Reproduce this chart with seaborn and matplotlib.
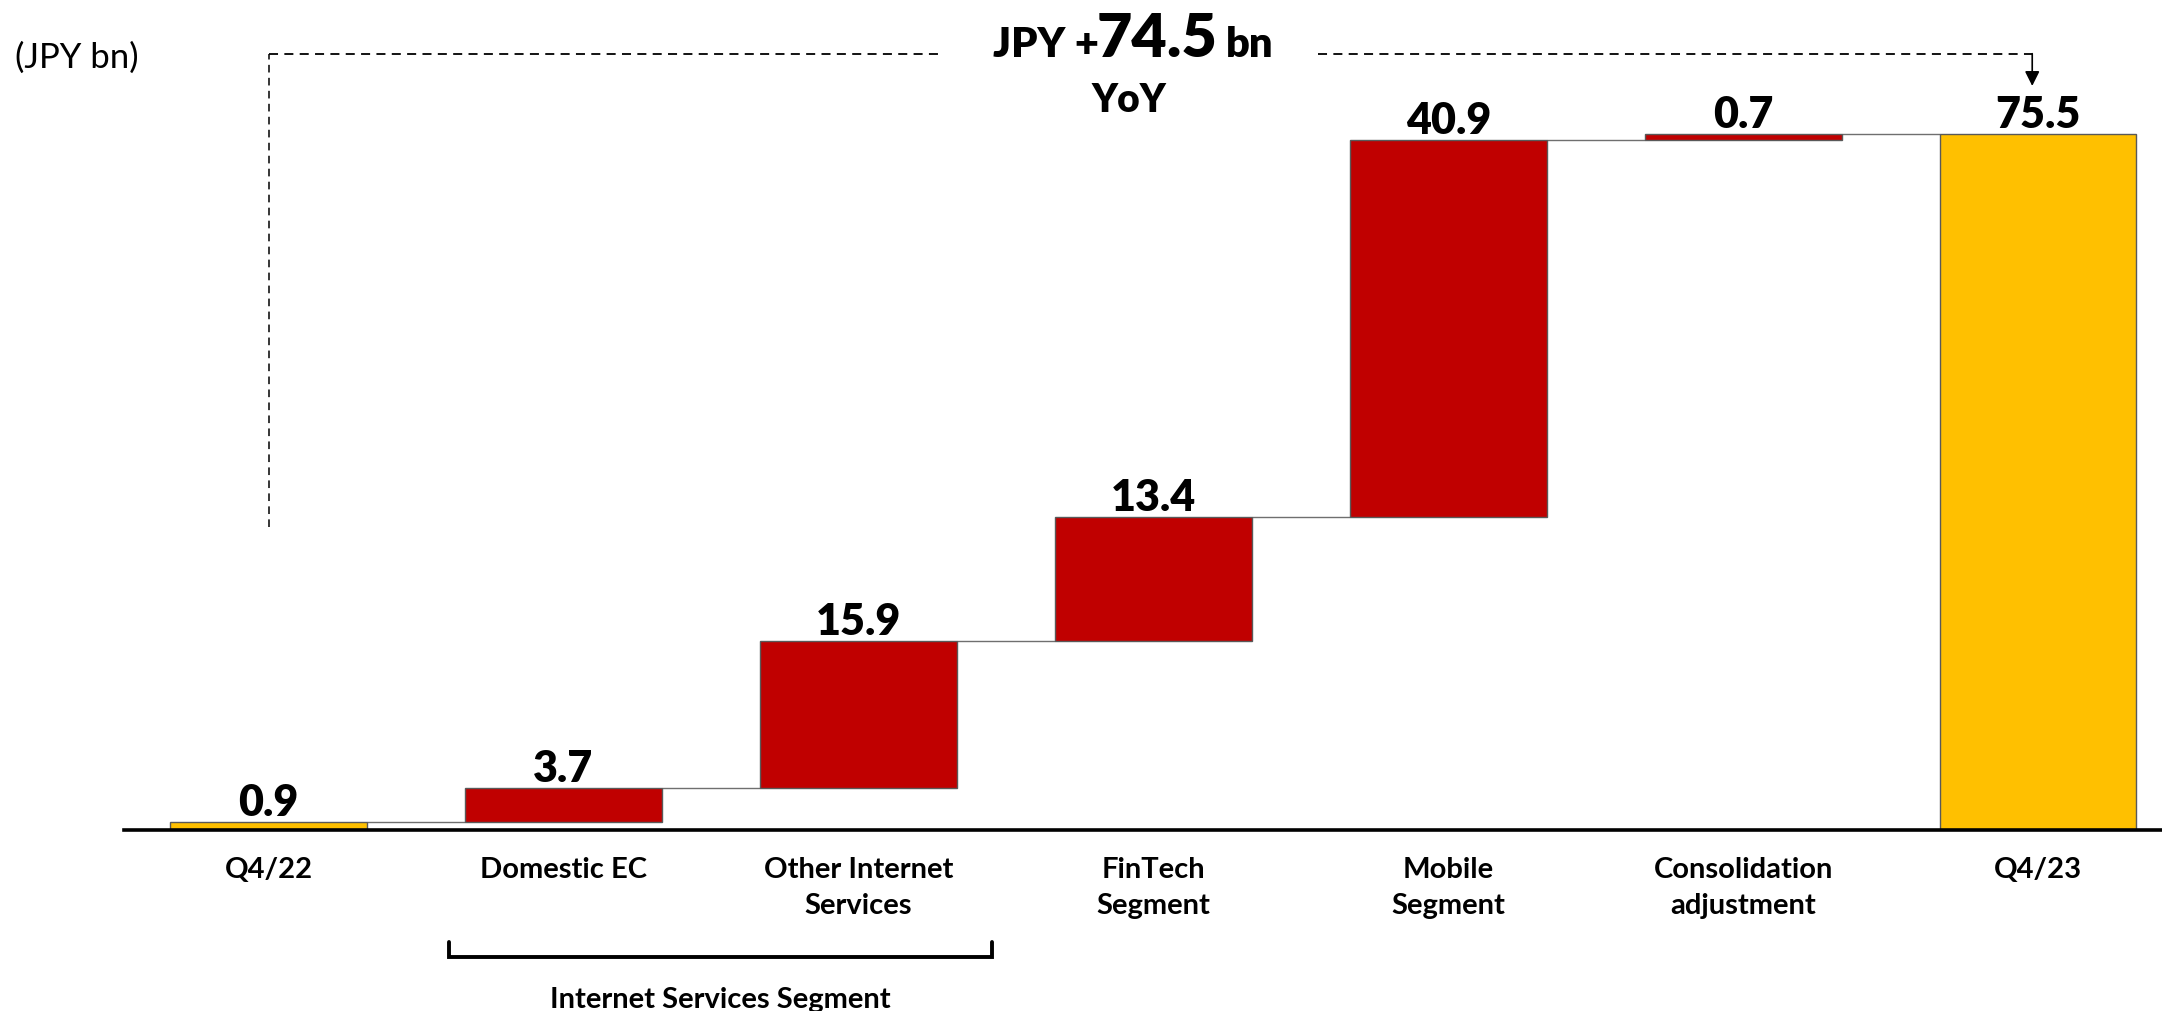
import matplotlib
matplotlib.use("Agg")
import matplotlib.pyplot as plt
import pandas as pd
import seaborn as sns

# ---- data -------------------------------------------------------------
categories = ["Q4/22", "Domestic EC", "Other Internet\nServices", "FinTech\nSegment",
              "Mobile\nSegment", "Consolidation\nadjustment", "Q4/23"]
amounts = [0.9, 3.7, 15.9, 13.4, 40.9, 0.7, 75.5]
is_total = [True, False, False, False, False, False, True]
yoy_change = 74.5
unit_label = "(JPY bn)"
group_label = "Internet Services Segment"

# bar bottoms: totals rise from zero, changes float on the running total
bottoms = []
running = 0.0
for amt, tot in zip(amounts, is_total):
    if tot:
        bottoms.append(0.0)
        running = amt
    else:
        bottoms.append(running)
        running += amt
tops = [b + a for b, a in zip(bottoms, amounts)]

df = pd.DataFrame({"item": categories, "amount": amounts, "bottom": bottoms})

# ---- style ------------------------------------------------------------
sns.set_theme(style="white")
plt.rcParams["font.family"] = ["Lato", "DejaVu Sans"]

RED = "#C00000"
GOLD = "#FFC000"
EDGE = "#595959"
BAR_W = 0.667
HEAVY = 800

fig = plt.figure(figsize=(21.62, 10.12), dpi=100)
ax = fig.add_axes([124 / 2162, 181 / 1012, 2038 / 2162, 831 / 1012])

sns.barplot(data=df, x="item", y="amount", order=categories,
            bottom=df["bottom"].to_numpy(), color=RED, saturation=1,
            width=BAR_W, errorbar=None, edgecolor=EDGE, linewidth=1.0,
            ax=ax, zorder=3)

for patch, tot in zip(ax.patches, is_total):
    if tot:
        patch.set_facecolor(GOLD)

# connector lines between consecutive bars
for i in range(len(categories) - 1):
    ax.plot([i + BAR_W / 2, i + 1 - BAR_W / 2], [tops[i], tops[i]],
            color="#6f6f6f", lw=1.0, zorder=2, solid_capstyle="butt")

# value labels
for i, (amt, top) in enumerate(zip(amounts, tops)):
    ax.annotate(f"{amt:.1f}", xy=(i, top), xytext=(0, 5), textcoords="offset points",
                ha="center", va="baseline", fontsize=31, fontweight=HEAVY,
                color="black", zorder=4)

ax.set_xlim(-0.49, 6.42)
ax.set_ylim(0, 90.13)
ax.set_xlabel("")
ax.set_ylabel("")
ax.set_yticks([])
ax.tick_params(axis="x", length=0, pad=19, labelsize=21, colors="black")
for lbl in ax.get_xticklabels():
    lbl.set_fontweight("bold")
    lbl.set_linespacing(1.45)

for side in ["top", "right", "left"]:
    ax.spines[side].set_visible(False)
ax.spines["bottom"].set_color("black")
ax.spines["bottom"].set_linewidth(2.6)
ax.spines["bottom"].set_zorder(5)

# ---- YoY change annotation ---------------------------------------------
dash = (0, (5, 3.5))
y_dash = 84.2
ax.plot([0, 0], [32.9, y_dash], color="black", lw=1.1, ls=dash, clip_on=False)
ax.plot([0, 2.29], [y_dash, y_dash], color="black", lw=1.3, ls=dash, clip_on=False)
ax.plot([3.56, 5.98], [y_dash, y_dash], color="black", lw=1.3, ls=dash, clip_on=False)
ax.annotate("", xy=(5.98, 80.7), xytext=(5.98, y_dash),
            arrowprops=dict(arrowstyle="-|>", color="black", lw=1.2,
                            mutation_scale=22, shrinkA=0, shrinkB=0),
            annotation_clip=False)

ax.text(3.013, 83.95, f"{yoy_change:.1f}", ha="center", va="baseline",
        fontsize=44, fontweight=HEAVY, color="black", clip_on=False)
ax.text(2.815, 83.95, "JPY +", ha="right", va="baseline",
        fontsize=30, fontweight=HEAVY, color="black", clip_on=False)
ax.text(3.245, 83.95, "bn", ha="left", va="baseline",
        fontsize=30, fontweight=HEAVY, color="black", clip_on=False)
ax.text(2.918, 77.98, "YoY", ha="center", va="baseline",
        fontsize=28, fontweight=HEAVY, color="black", clip_on=False)

fig.text(15 / 2162, 1 - 68 / 1012, unit_label, ha="left", va="baseline",
         fontsize=25, color="black")

# ---- segment bracket under the Internet Services items ---------------------
bx0, bx1 = 0.611, 2.454
by_top, by_bot = -12.15, -13.75
ax.plot([bx0, bx0, bx1, bx1], [by_top, by_bot, by_bot, by_top], color="black",
        lw=2.8, clip_on=False, solid_joinstyle="miter")
ax.text((bx0 + bx1) / 2, -19.2, group_label, ha="center", va="baseline",
        fontsize=21, fontweight="bold", color="black", clip_on=False)

fig.savefig("out.png", dpi=100, facecolor="white")
